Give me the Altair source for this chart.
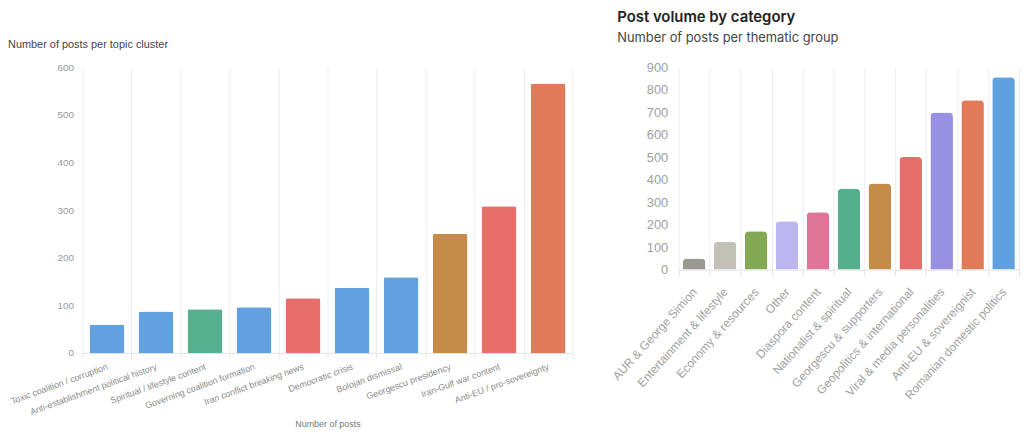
import altair as alt
import pandas as pd

# Left chart data
left_cats = [
    "Toxic coalition / corruption",
    "Anti-establishment political history",
    "Spiritual / lifestyle content",
    "Governing coalition formation",
    "Iran conflict breaking news",
    "Democratic crisis",
    "Bolojan dismissal",
    "Georgescu presidency",
    "Iran-Gulf war content",
    "Anti-EU / pro-sovereignty",
]
left_vals = [59, 87, 92, 96, 115, 137, 159, 250, 308, 565]
left_colors = ["#62a0e0", "#62a0e0", "#56b08d", "#62a0e0", "#e86e6a",
               "#62a0e0", "#62a0e0", "#c48c48", "#e86e6a", "#e07a58"]

# Right chart data
right_cats = [
    "AUR & George Simion",
    "Entertainment & lifestyle",
    "Economy & resources",
    "Other",
    "Diaspora content",
    "Nationalist & spiritual",
    "Georgescu & supporters",
    "Geopolitics & international",
    "Viral & media personalities",
    "Anti-EU & sovereignist",
    "Romanian domestic politics",
]
right_vals = [49, 124, 171, 215, 255, 360, 383, 501, 699, 753, 855]
right_colors = ["#9a998f", "#c3c0b8", "#82aa55", "#bcb6ef", "#df7596", "#55ae8c",
                "#c48c48", "#e76d6b", "#9890e3", "#e07a58", "#5fa0e0"]

left_ticks = [0, 100, 200, 300, 400, 500, 600]
right_ticks = [0, 100, 200, 300, 400, 500, 600, 700, 800, 900]

LF = "Liberation Sans"
TF = "Inter"

left_df = pd.DataFrame({"cat": left_cats, "val": left_vals, "color": left_colors})
right_df = pd.DataFrame({"cat": right_cats, "val": right_vals, "color": right_colors})

left = alt.Chart(left_df).mark_bar(
    width=alt.RelativeBandSize(0.71),
    cornerRadiusTopLeft=2, cornerRadiusTopRight=2,
).encode(
    x=alt.X("cat:N", sort=left_cats, title="Number of posts",
            scale=alt.Scale(paddingInner=0, paddingOuter=0),
            axis=alt.Axis(grid=True, tickBand="extent", gridColor="#ededed",
                          tickColor="#e6e6e6", tickSize=5, domainColor="#e3e3e3",
                          labelAngle=-20, labelAlign="right", labelBaseline="middle",
                          labelPadding=8, labelFont=LF, labelFontSize=9, labelColor="#8a8a8a",
                          titleFont=LF, titleFontSize=9, titleFontWeight="normal",
                          titleColor="#777777", titlePadding=3)),
    y=alt.Y("val:Q", scale=alt.Scale(domain=[0, 600]),
            axis=alt.Axis(values=left_ticks, grid=False, domain=False, ticks=False,
                          title=None, labelFont=LF, labelFontSize=10,
                          labelColor="#999999", labelPadding=9)),
    color=alt.Color("color:N", scale=None),
).properties(
    width=494, height=288,
    title=alt.TitleParams("Number of posts per topic cluster", anchor="start", frame="group",
                          dx=-75, offset=12, font=LF, fontSize=11, fontWeight=500,
                          color="#444444"),
)

right = alt.Chart(right_df).mark_bar(
    width=alt.RelativeBandSize(0.73),
    cornerRadiusTopLeft=4, cornerRadiusTopRight=4,
).encode(
    x=alt.X("cat:N", sort=right_cats, title=None,
            scale=alt.Scale(paddingInner=0, paddingOuter=0),
            axis=alt.Axis(grid=True, tickBand="extent", gridColor="#ededed",
                          tickColor="#e3e3e3", tickSize=6, domainColor="#e3e3e3",
                          labelAngle=-48, labelAlign="right", labelBaseline="middle",
                          labelPadding=14, labelFont=LF, labelFontSize=12,
                          labelColor="#a0a0a0")),
    y=alt.Y("val:Q", scale=alt.Scale(domain=[0, 900]),
            axis=alt.Axis(values=right_ticks, grid=False, domain=False, ticks=False,
                          title=None, labelFont=LF, labelFontSize=13,
                          labelColor="#a0a0a0", labelPadding=11)),
    color=alt.Color("color:N", scale=None),
).properties(
    width=343, height=204,
    title=alt.TitleParams("Post volume by category",
                          subtitle="Number of posts per thematic group",
                          anchor="start", frame="group", dx=-62, offset=16,
                          font=TF, fontSize=15, fontWeight=600, color="#222222",
                          subtitleFont=TF, subtitleFontSize=13, subtitleColor="#444444",
                          subtitlePadding=8),
)

chart = alt.hconcat(left, right, spacing=107, bounds="flush").properties(
    padding={"left": 0, "top": 0, "right": 0, "bottom": 0}
).configure_view(stroke=None)

chart.save("out.html", embed_options={"renderer": "svg", "actions": False})
